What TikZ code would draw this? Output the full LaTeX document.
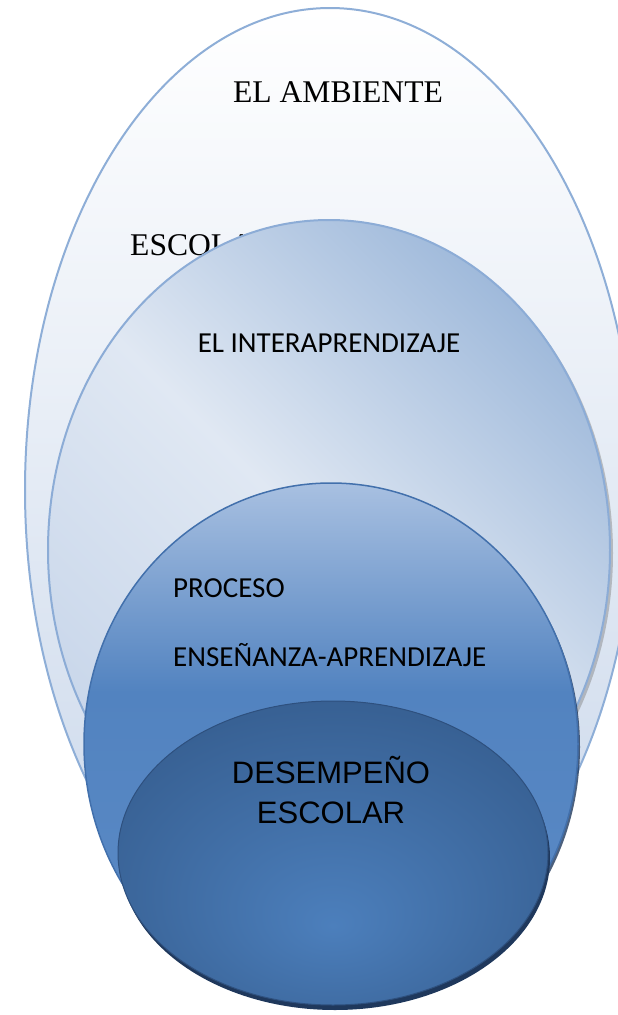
\documentclass[tikz,border=0pt]{standalone}
\usepackage{fontspec}
\setmainfont{Liberation Serif}
\newfontfamily\carlito{Carlito}
\newfontfamily\libsans{Liberation Sans}
\usetikzlibrary{shadows}

\definecolor{ambedge}{RGB}{142,174,215}
\definecolor{ambfill}{RGB}{200,214,234}
\definecolor{interedge}{RGB}{140,172,214}
\definecolor{interdark}{RGB}{160,186,219}
\definecolor{interlight}{RGB}{224,232,243}
\definecolor{interlow}{RGB}{200,214,234}
\definecolor{procedge}{RGB}{66,112,172}
\definecolor{proctop}{RGB}{168,192,225}
\definecolor{procmid}{RGB}{82,131,192}
\definecolor{procbot}{RGB}{92,139,198}
\definecolor{coreedge}{RGB}{46,80,126}
\definecolor{corelight}{RGB}{76,127,188}
\definecolor{coredark}{RGB}{54,94,144}
\definecolor{coreshadow}{RGB}{31,56,92}
% 25bp = bottom of the ellipse, 75bp = top
\pgfdeclareverticalshading{procfade}{100bp}{color(0bp)=(procbot); color(25bp)=(procbot); color(55bp)=(procmid); color(75bp)=(proctop); color(100bp)=(proctop)}
\pgfdeclareradialshading{coreglow}{\pgfpoint{0bp}{-12bp}}{color(0bp)=(corelight); color(32bp)=(coredark); color(50bp)=(coredark)}

\begin{document}
\begin{tikzpicture}[x=1pt, y=-1pt,
    ring/.style={line width=2pt},
    txt/.style={inner sep=0pt, text=black}]
  \useasboundingbox (0,0) rectangle (618,1015);
  \clip (0,0) rectangle (618,1015);
  % el ambiente escolar
  \draw[ring, draw=ambedge, top color=white, bottom color=ambfill]
    (330,490) ellipse [x radius=305pt, y radius=482pt];
  \node[txt, anchor=base, font=\fontsize{31.6}{36}\selectfont] (ambiente) at (338,102.5) {EL AMBIENTE};
  \node[txt, anchor=base west, font=\fontsize{31.6}{36}\selectfont] (escolar) at (130,255.5) {ESCOLAR};
  % el interaprendizaje
  \draw[ring, draw=interedge, top color=interdark, bottom color=interlow, middle color=interlight, shading angle=-45,
        drop shadow={shadow xshift=3pt, shadow yshift=-3pt, fill=gray, opacity=0.45}]
    (329,550) ellipse [x radius=281pt, y radius=330pt];
  \node[txt, anchor=base, font=\carlito\fontsize{29}{34}\selectfont] (inter) at (329,352) {EL INTERAPRENDIZAJE};
  % proceso ensenanza-aprendizaje
  \draw[line width=1.5pt, draw=procedge, shading=procfade,
        drop shadow={shadow xshift=2pt, shadow yshift=-3pt, fill=coreshadow, opacity=0.8}]
    (331,744) ellipse [x radius=247pt, y radius=261pt];
  \node[txt, anchor=base west, font=\carlito\fontsize{29}{34}\selectfont] (proceso) at (173,597) {PROCESO};
  \node[txt, anchor=base west, font=\carlito\fontsize{29}{34}\selectfont] (ensenanza) at (173,666) {ENSEÑANZA-APRENDIZAJE};
  % desempeno escolar
  \draw[line width=1pt, draw=coreedge, shading=coreglow,
        drop shadow={shadow xshift=2pt, shadow yshift=-5pt, fill=coreshadow, opacity=1}]
    (333,853) ellipse [x radius=215pt, y radius=152pt];
  \node[txt, anchor=base, font=\libsans\fontsize{31}{36}\selectfont] (desempeno) at (331,783) {DESEMPEÑO};
  \node[txt, anchor=base, font=\libsans\fontsize{31}{36}\selectfont] (escolar2) at (331,823) {ESCOLAR};
\end{tikzpicture}
\end{document}
